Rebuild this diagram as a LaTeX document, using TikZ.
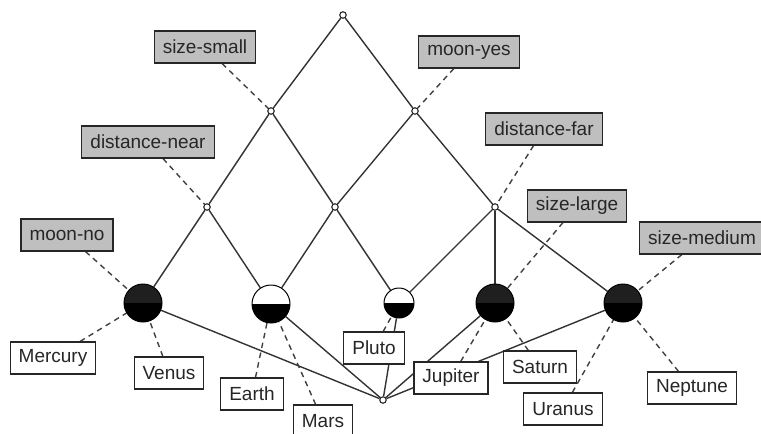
\documentclass[tikz,border=0pt]{standalone}
\usepackage{fontspec}
\setmainfont{Liberation Sans}
\usetikzlibrary{backgrounds}

\begin{document}
\begin{tikzpicture}[
  x=1pt, y=-1pt,
  edge/.style={line width=1.4pt, black!80},
  link/.style={line width=1.4pt, dash pattern=on 5.5pt off 4.5pt, black!75},
  dot/.style={circle, draw=black!85, fill=white, line width=1.1pt,
    inner sep=0pt, minimum size=6.5pt},
  fullball/.style={circle, draw=black, line width=1pt, fill=black!88,
    inner sep=0pt, minimum size=38pt,
    path picture={\fill[black] (path picture bounding box.west)
      rectangle (path picture bounding box.south east);}},
  halfball/.style={fullball, fill=white},
  attr/.style={rectangle, draw=black!85, fill=black!25, line width=1.1pt,
    minimum height=32pt, inner xsep=8.5pt, text=black!85,
    font=\fontsize{19}{22}\selectfont},
  obj/.style={attr, fill=white},
]

\useasboundingbox (0,0) rectangle (761,434);

% ---- Lattice nodes ----
\node[dot] (top) at (343,15) {};
\node[dot] (small) at (271,111) {};
\node[dot] (moonyes) at (415,111) {};
\node[dot] (near) at (207,207) {};
\node[dot] (mid) at (335,207) {};
\node[dot] (far) at (495,207) {};
\node[fullball] (moonno) at (143,303) {};
\node[halfball] (earth) at (271,304) {};
\node[halfball, minimum size=30pt] (pluto) at (399,303) {};
\node[fullball] (large) at (495,303) {};
\node[fullball] (medium) at (623,303) {};
\node[dot] (bot) at (383,400) {};

% Edges
\begin{scope}[on background layer]
\draw[edge] (top) -- (small);
\draw[edge] (top) -- (moonyes);
\draw[edge] (small) -- (near);
\draw[edge] (small) -- (mid);
\draw[edge] (moonyes) -- (mid);
\draw[edge] (moonyes) -- (far);
\draw[edge] (near) -- (moonno);
\draw[edge] (near) -- (earth);
\draw[edge] (mid) -- (earth);
\draw[edge] (mid) -- (pluto);
\draw[edge] (far) -- (pluto);
\draw[edge] (far) -- (large);
\draw[edge] (far) -- (medium);
\draw[edge] (moonno) -- (bot);
\draw[edge] (earth) -- (bot);
\draw[edge] (pluto) -- (bot);
\draw[edge] (large) -- (bot);
\draw[edge] (medium) -- (bot);
\end{scope}

% ---- Attribute labels (gray) ----
\node[attr] (l_small) at (205,47) {size-small};
\node[attr] (l_moonyes) at (469,52) {moon-yes};
\node[attr] (l_near) at (148,142) {distance-near};
\node[attr] (l_far) at (544,129) {distance-far};
\node[attr] (l_large) at (577,206) {size-large};
\node[attr] (l_medium) at (702,238) {size-medium};
\node[attr] (l_moonno) at (67,235) {moon-no};

% ---- Object labels (white) ----
\node[obj] (mercury) at (53,358) {Mercury};
\node[obj] (venus) at (169,373) {Venus};
\node[obj] (o_earth) at (252,394) {Earth};
\node[obj] (mars) at (323,421) {Mars};
\node[obj] (o_pluto) at (374,348) {Pluto};
\node[obj] (jupiter) at (451,378) {Jupiter};
\node[obj] (saturn) at (540,367) {Saturn};
\node[obj] (uranus) at (563,409) {Uranus};
\node[obj] (neptune) at (692,388) {Neptune};

% Dashed label links
\begin{scope}[on background layer]
\draw[link] (l_small) -- (small);
\draw[link] (l_moonyes) -- (moonyes);
\draw[link] (l_near) -- (near);
\draw[link] (l_far) -- (far);
\draw[link] (l_large) -- (large);
\draw[link] (l_medium) -- (medium);
\draw[link] (l_moonno) -- (moonno);
\draw[link] (mercury) -- (moonno);
\draw[link] (venus) -- (moonno);
\draw[link] (o_earth) -- (earth);
\draw[link] (mars) -- (earth);
\draw[link] (o_pluto) -- (pluto);
\draw[link] (jupiter) -- (large);
\draw[link] (saturn) -- (large);
\draw[link] (uranus) -- (medium);
\draw[link] (neptune) -- (medium);
\end{scope}

\end{tikzpicture}
\end{document}
